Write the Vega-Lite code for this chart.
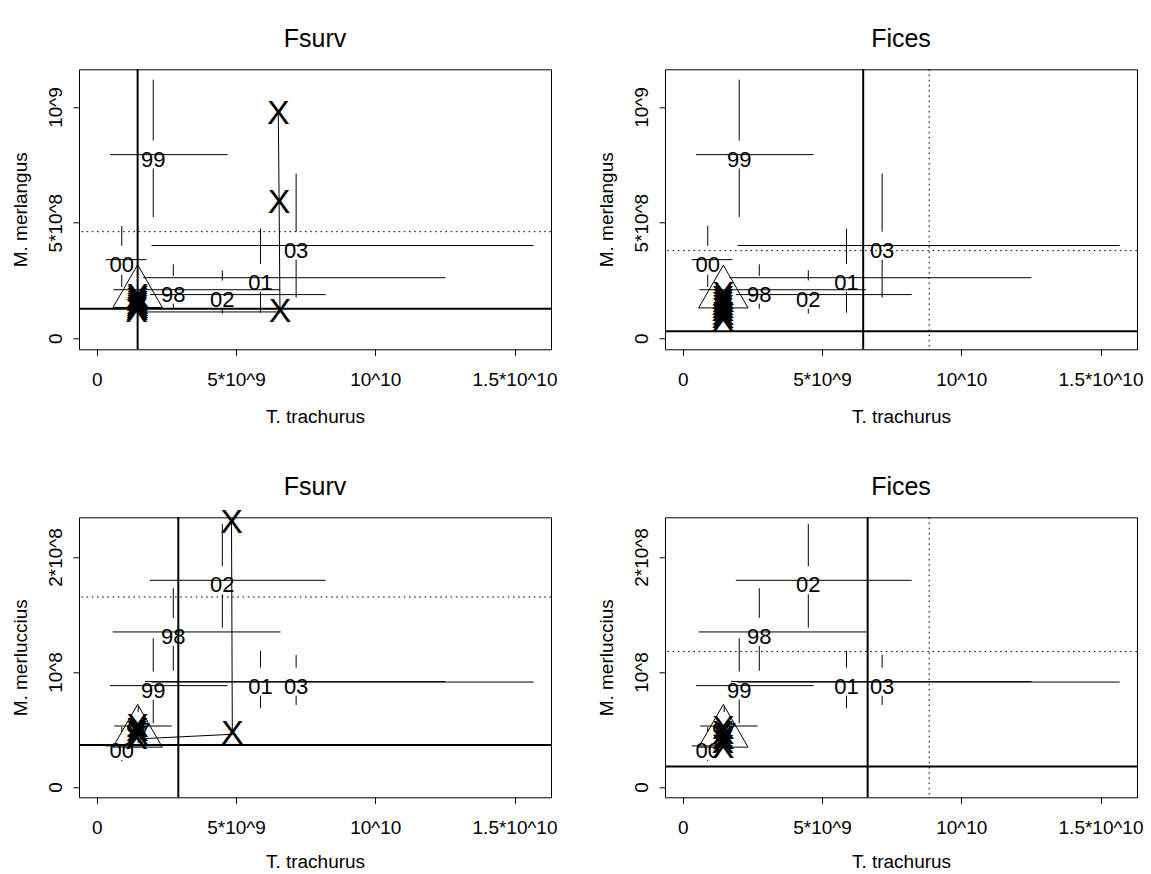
{
"$schema":"https://vega.github.io/schema/vega-lite/v6.json",
"background":"white",
"autosize":{"type":"none"},
"padding":{"left":79,"top":69.3,"right":1072,"bottom":805},
"config":{
 "font":"Liberation Sans",
 "view":{"stroke":"black","strokeWidth":1},
 "axis":{"grid":false,"domain":false,"ticks":true,"tickColor":"black","tickSize":6,"tickWidth":1,"labelFont":"Liberation Sans","labelFontSize":19,"labelColor":"black","labelFlush":false,"labelOverlap":false,"titleFont":"Liberation Sans","titleFontSize":19,"titleFontWeight":"normal","titleColor":"black"},
 "title":{"font":"Liberation Sans","fontSize":25,"fontWeight":"normal","color":"black","anchor":"middle","frame":"group","baseline":"alphabetic"},
 "text":{"font":"Liberation Sans","color":"black"},
 "rule":{"color":"black"},
 "line":{"color":"black"}
},
"datasets":{
 "ci":[
  {"sp":"merlangus","year":"98","x":2.75e9,"xlo":0.60e9,"xhi":6.58e9,"y":2.10e8},
  {"sp":"merlangus","year":"99","x":2.03e9,"xlo":0.477e9,"xhi":4.70e9,"y":7.94e8},
  {"sp":"merlangus","year":"00","x":0.90e9,"xlo":0.32e9,"xhi":1.79e9,"y":3.40e8},
  {"sp":"merlangus","year":"01","x":5.88e9,"xlo":1.67e9,"xhi":12.52e9,"y":2.62e8},
  {"sp":"merlangus","year":"02","x":4.51e9,"xlo":1.91e9,"xhi":8.22e9,"y":1.89e8},
  {"sp":"merlangus","year":"03","x":7.16e9,"xlo":1.97e9,"xhi":15.69e9,"y":4.01e8},
  {"sp":"merluccius","year":"97","x":1.49e9,"xlo":0.63e9,"xhi":2.69e9,"y":0.53e8},
  {"sp":"merluccius","year":"98","x":2.75e9,"xlo":0.574e9,"xhi":6.60e9,"y":1.348e8},
  {"sp":"merluccius","year":"99","x":2.03e9,"xlo":0.477e9,"xhi":4.70e9,"y":0.881e8},
  {"sp":"merluccius","year":"00","x":0.90e9,"xlo":0.32e9,"xhi":1.79e9,"y":0.357e8},
  {"sp":"merluccius","year":"01","x":5.88e9,"xlo":1.73e9,"xhi":12.52e9,"y":0.916e8},
  {"sp":"merluccius","year":"02","x":4.51e9,"xlo":1.91e9,"xhi":8.22e9,"y":1.797e8},
  {"sp":"merluccius","year":"03","x":7.16e9,"xlo":1.97e9,"xhi":15.69e9,"y":0.912e8}
 ],
 "vseg":[
  {"sp":"merlangus","year":"98","x":2.75e9,"y1":1.28e8,"y2":1.50e8},
  {"sp":"merlangus","year":"98","x":2.75e9,"y1":2.70e8,"y2":3.20e8},
  {"sp":"merlangus","year":"99","x":2.03e9,"y1":5.24e8,"y2":7.34e8},
  {"sp":"merlangus","year":"99","x":2.03e9,"y1":8.55e8,"y2":11.18e8},
  {"sp":"merlangus","year":"00","x":0.90e9,"y1":2.22e8,"y2":2.75e8},
  {"sp":"merlangus","year":"00","x":0.90e9,"y1":4.00e8,"y2":4.86e8},
  {"sp":"merlangus","year":"01","x":5.88e9,"y1":1.11e8,"y2":2.01e8},
  {"sp":"merlangus","year":"01","x":5.88e9,"y1":3.22e8,"y2":4.74e8},
  {"sp":"merlangus","year":"02","x":4.51e9,"y1":1.07e8,"y2":1.28e8},
  {"sp":"merlangus","year":"02","x":4.51e9,"y1":2.50e8,"y2":2.94e8},
  {"sp":"merlangus","year":"03","x":7.16e9,"y1":1.76e8,"y2":3.40e8},
  {"sp":"merlangus","year":"03","x":7.16e9,"y1":4.61e8,"y2":7.12e8},
  {"sp":"merluccius","year":"97","x":1.49e9,"y1":0.38e8,"y2":0.408e8},
  {"sp":"merluccius","year":"97","x":1.49e9,"y1":0.652e8,"y2":0.704e8},
  {"sp":"merluccius","year":"98","x":2.75e9,"y1":1.011e8,"y2":1.226e8},
  {"sp":"merluccius","year":"98","x":2.75e9,"y1":1.470e8,"y2":1.728e8},
  {"sp":"merluccius","year":"99","x":2.03e9,"y1":0.554e8,"y2":0.759e8},
  {"sp":"merluccius","year":"99","x":2.03e9,"y1":1.003e8,"y2":1.293e8},
  {"sp":"merluccius","year":"00","x":0.90e9,"y1":0.225e8,"y2":0.235e8},
  {"sp":"merluccius","year":"00","x":0.90e9,"y1":0.479e8,"y2":0.52e8},
  {"sp":"merluccius","year":"01","x":5.88e9,"y1":0.684e8,"y2":0.794e8},
  {"sp":"merluccius","year":"01","x":5.88e9,"y1":1.038e8,"y2":1.183e8},
  {"sp":"merluccius","year":"02","x":4.51e9,"y1":1.385e8,"y2":1.675e8},
  {"sp":"merluccius","year":"02","x":4.51e9,"y1":1.919e8,"y2":2.287e8},
  {"sp":"merluccius","year":"03","x":7.16e9,"y1":0.713e8,"y2":0.793e8},
  {"sp":"merluccius","year":"03","x":7.16e9,"y1":1.037e8,"y2":1.148e8}
 ],
 "refs":[
  {"panel":"p1","axis":"x","kind":"solid","value":1.47e9},
  {"panel":"p1","axis":"y","kind":"solid","value":1.28e8},
  {"panel":"p1","axis":"y","kind":"dotted","value":4.61e8},
  {"panel":"p2","axis":"x","kind":"solid","value":6.48e9},
  {"panel":"p2","axis":"x","kind":"dotted","value":8.85e9},
  {"panel":"p2","axis":"y","kind":"solid","value":0.30e8},
  {"panel":"p2","axis":"y","kind":"dotted","value":3.79e8},
  {"panel":"p3","axis":"x","kind":"solid","value":2.93e9},
  {"panel":"p3","axis":"y","kind":"solid","value":0.365e8},
  {"panel":"p3","axis":"y","kind":"dotted","value":1.652e8},
  {"panel":"p4","axis":"x","kind":"solid","value":6.64e9},
  {"panel":"p4","axis":"x","kind":"dotted","value":8.85e9},
  {"panel":"p4","axis":"y","kind":"solid","value":0.177e8},
  {"panel":"p4","axis":"y","kind":"dotted","value":1.177e8}
 ],
 "traj":[
  {"panel":"p1","step":1,"x":1.47e9,"y":1.79e8},
  {"panel":"p1","step":2,"x":1.47e9,"y":1.70e8},
  {"panel":"p1","step":3,"x":1.46e9,"y":1.60e8},
  {"panel":"p1","step":4,"x":1.47e9,"y":1.50e8},
  {"panel":"p1","step":5,"x":1.46e9,"y":1.40e8},
  {"panel":"p1","step":6,"x":1.46e9,"y":1.30e8},
  {"panel":"p1","step":7,"x":1.45e9,"y":1.22e8},
  {"panel":"p1","step":8,"x":1.43e9,"y":1.14e8},
  {"panel":"p1","step":9,"x":6.58e9,"y":1.14e8},
  {"panel":"p1","step":10,"x":6.55e9,"y":5.86e8},
  {"panel":"p1","step":11,"x":6.52e9,"y":9.68e8},
  {"panel":"p2","step":1,"x":1.46e9,"y":1.86e8},
  {"panel":"p2","step":2,"x":1.45e9,"y":1.72e8},
  {"panel":"p2","step":3,"x":1.46e9,"y":1.58e8},
  {"panel":"p2","step":4,"x":1.44e9,"y":1.44e8},
  {"panel":"p2","step":5,"x":1.45e9,"y":1.30e8},
  {"panel":"p2","step":6,"x":1.44e9,"y":1.16e8},
  {"panel":"p2","step":7,"x":1.45e9,"y":1.02e8},
  {"panel":"p2","step":8,"x":1.44e9,"y":0.88e8},
  {"panel":"p2","step":9,"x":1.45e9,"y":0.76e8},
  {"panel":"p3","step":1,"x":1.47e9,"y":0.52e8},
  {"panel":"p3","step":2,"x":1.46e9,"y":0.49e8},
  {"panel":"p3","step":3,"x":1.45e9,"y":0.46e8},
  {"panel":"p3","step":4,"x":1.43e9,"y":0.417e8},
  {"panel":"p3","step":5,"x":4.87e9,"y":0.458e8},
  {"panel":"p3","step":6,"x":4.84e9,"y":2.296e8},
  {"panel":"p4","step":1,"x":1.46e9,"y":0.50e8},
  {"panel":"p4","step":2,"x":1.45e9,"y":0.46e8},
  {"panel":"p4","step":3,"x":1.46e9,"y":0.42e8},
  {"panel":"p4","step":4,"x":1.44e9,"y":0.38e8},
  {"panel":"p4","step":5,"x":1.45e9,"y":0.34e8}
 ],
 "start":[
  {"panel":"p1","x":1.47e9,"y":1.95e8},
  {"panel":"p2","x":1.46e9,"y":1.93e8},
  {"panel":"p3","x":1.47e9,"y":0.47e8},
  {"panel":"p4","x":1.46e9,"y":0.47e8}
 ]
},
"columns":2,
"spacing":{"row":168,"column":114},
"bounds":"flush",
"concat":[
 {"width":472,"height":280,"title":{"text":"Fsurv","frame":"group","baseline":"alphabetic","offset":-4,"anchor":"middle","fontSize":25,"fontWeight":"normal","font":"Liberation Sans"},"layer":[
  {"data":{"name":"refs"},"transform":[{"filter":"datum.panel=='p1' && datum.axis=='x'"}],"mark":"rule","encoding":{"x":{"field":"value","type":"quantitative","scale":{"domain":[-0.635e9,16.31e9],"nice":false,"zero":false}},"strokeDash":{"field":"kind","type":"nominal","scale":{"domain":["solid","dotted"],"range":[[1,0],[1.6,3.6]]},"legend":null},"strokeWidth":{"field":"kind","type":"nominal","scale":{"domain":["solid","dotted"],"range":[2,1]},"legend":null}}},
  {"data":{"name":"refs"},"transform":[{"filter":"datum.panel=='p1' && datum.axis=='y'"}],"mark":"rule","encoding":{"y":{"field":"value","type":"quantitative","scale":{"domain":[-0.475e8,11.63e8],"nice":false,"zero":false}},"strokeDash":{"field":"kind","type":"nominal","scale":{"domain":["solid","dotted"],"range":[[1,0],[1.6,3.6]]},"legend":null},"strokeWidth":{"field":"kind","type":"nominal","scale":{"domain":["solid","dotted"],"range":[2,1]},"legend":null}}},
  {"data":{"name":"ci"},"transform":[{"filter":"datum.sp=='merlangus'"}],"mark":{"type":"rule","strokeWidth":1},"encoding":{"x":{"field":"xlo","type":"quantitative","scale":{"domain":[-0.635e9,16.31e9],"nice":false,"zero":false},"axis":{"title":"T. trachurus","values":[0,5000000000,10000000000,15000000000],"labelExpr":"datum.value==0 ? '0' : datum.value==5000000000 ? '5*10^9' : datum.value==10000000000 ? '10^10' : '1.5*10^10'","labelBaseline":"alphabetic","labelPadding":30.7,"titleX":236,"titleY":73.7,"titleBaseline":"alphabetic"}},"x2":{"field":"xhi"},"y":{"field":"y","type":"quantitative","scale":{"domain":[-0.475e8,11.63e8],"nice":false,"zero":false},"axis":{"title":"M. merlangus","values":[0,500000000,1000000000],"labelExpr":"datum.value==0 ? '0' : datum.value==500000000 ? '5*10^8' : '10^9'","labelAngle":270,"labelAlign":"center","labelBaseline":"alphabetic","labelPadding":11.5,"titleAngle":270,"titleX":-52.5,"titleY":140,"titleBaseline":"alphabetic","titleAlign":"center"}}}},
  {"data":{"name":"vseg"},"transform":[{"filter":"datum.sp=='merlangus'"}],"mark":{"type":"rule","strokeWidth":1},"encoding":{"x":{"field":"x","type":"quantitative","scale":{"domain":[-0.635e9,16.31e9],"nice":false,"zero":false}},"y":{"field":"y1","type":"quantitative","scale":{"domain":[-0.475e8,11.63e8],"nice":false,"zero":false}},"y2":{"field":"y2"}}},
  {"data":{"name":"ci"},"transform":[{"filter":"datum.sp=='merlangus'"}],"mark":{"type":"text","fontSize":22,"baseline":"middle","align":"center","dy":5},"encoding":{"x":{"field":"x","type":"quantitative","scale":{"domain":[-0.635e9,16.31e9],"nice":false,"zero":false}},"y":{"field":"y","type":"quantitative","scale":{"domain":[-0.475e8,11.63e8],"nice":false,"zero":false}},"text":{"field":"year","type":"nominal"}}},
  {"data":{"name":"traj"},"transform":[{"filter":"datum.panel=='p1'"}],"mark":{"type":"line","strokeWidth":1},"encoding":{"x":{"field":"x","type":"quantitative","scale":{"domain":[-0.635e9,16.31e9],"nice":false,"zero":false}},"y":{"field":"y","type":"quantitative","scale":{"domain":[-0.475e8,11.63e8],"nice":false,"zero":false}},"order":{"field":"step","type":"quantitative"}}},
  {"data":{"name":"traj"},"transform":[{"filter":"datum.panel=='p1'"}],"mark":{"type":"text","text":"X","fontSize":34,"baseline":"middle","align":"center"},"encoding":{"x":{"field":"x","type":"quantitative","scale":{"domain":[-0.635e9,16.31e9],"nice":false,"zero":false}},"y":{"field":"y","type":"quantitative","scale":{"domain":[-0.475e8,11.63e8],"nice":false,"zero":false}}}},
  {"data":{"name":"start"},"transform":[{"filter":"datum.panel=='p1'"}],"mark":{"type":"point","shape":"M0,-1L0.866,0.5L-0.866,0.5Z","size":3249,"filled":false,"stroke":"black","strokeWidth":1,"opacity":1},"encoding":{"x":{"field":"x","type":"quantitative","scale":{"domain":[-0.635e9,16.31e9],"nice":false,"zero":false}},"y":{"field":"y","type":"quantitative","scale":{"domain":[-0.475e8,11.63e8],"nice":false,"zero":false}}}}
 ]},
 {"width":472,"height":280,"title":{"text":"Fices","frame":"group","baseline":"alphabetic","offset":-4,"anchor":"middle","fontSize":25,"fontWeight":"normal","font":"Liberation Sans"},"layer":[
  {"data":{"name":"refs"},"transform":[{"filter":"datum.panel=='p2' && datum.axis=='x'"}],"mark":"rule","encoding":{"x":{"field":"value","type":"quantitative","scale":{"domain":[-0.635e9,16.31e9],"nice":false,"zero":false}},"strokeDash":{"field":"kind","type":"nominal","scale":{"domain":["solid","dotted"],"range":[[1,0],[1.6,3.6]]},"legend":null},"strokeWidth":{"field":"kind","type":"nominal","scale":{"domain":["solid","dotted"],"range":[2,1]},"legend":null}}},
  {"data":{"name":"refs"},"transform":[{"filter":"datum.panel=='p2' && datum.axis=='y'"}],"mark":"rule","encoding":{"y":{"field":"value","type":"quantitative","scale":{"domain":[-0.475e8,11.63e8],"nice":false,"zero":false}},"strokeDash":{"field":"kind","type":"nominal","scale":{"domain":["solid","dotted"],"range":[[1,0],[1.6,3.6]]},"legend":null},"strokeWidth":{"field":"kind","type":"nominal","scale":{"domain":["solid","dotted"],"range":[2,1]},"legend":null}}},
  {"data":{"name":"ci"},"transform":[{"filter":"datum.sp=='merlangus'"}],"mark":{"type":"rule","strokeWidth":1},"encoding":{"x":{"field":"xlo","type":"quantitative","scale":{"domain":[-0.635e9,16.31e9],"nice":false,"zero":false},"axis":{"title":"T. trachurus","values":[0,5000000000,10000000000,15000000000],"labelExpr":"datum.value==0 ? '0' : datum.value==5000000000 ? '5*10^9' : datum.value==10000000000 ? '10^10' : '1.5*10^10'","labelBaseline":"alphabetic","labelPadding":30.7,"titleX":236,"titleY":73.7,"titleBaseline":"alphabetic"}},"x2":{"field":"xhi"},"y":{"field":"y","type":"quantitative","scale":{"domain":[-0.475e8,11.63e8],"nice":false,"zero":false},"axis":{"title":"M. merlangus","values":[0,500000000,1000000000],"labelExpr":"datum.value==0 ? '0' : datum.value==500000000 ? '5*10^8' : '10^9'","labelAngle":270,"labelAlign":"center","labelBaseline":"alphabetic","labelPadding":11.5,"titleAngle":270,"titleX":-52.5,"titleY":140,"titleBaseline":"alphabetic","titleAlign":"center"}}}},
  {"data":{"name":"vseg"},"transform":[{"filter":"datum.sp=='merlangus'"}],"mark":{"type":"rule","strokeWidth":1},"encoding":{"x":{"field":"x","type":"quantitative","scale":{"domain":[-0.635e9,16.31e9],"nice":false,"zero":false}},"y":{"field":"y1","type":"quantitative","scale":{"domain":[-0.475e8,11.63e8],"nice":false,"zero":false}},"y2":{"field":"y2"}}},
  {"data":{"name":"ci"},"transform":[{"filter":"datum.sp=='merlangus'"}],"mark":{"type":"text","fontSize":22,"baseline":"middle","align":"center","dy":5},"encoding":{"x":{"field":"x","type":"quantitative","scale":{"domain":[-0.635e9,16.31e9],"nice":false,"zero":false}},"y":{"field":"y","type":"quantitative","scale":{"domain":[-0.475e8,11.63e8],"nice":false,"zero":false}},"text":{"field":"year","type":"nominal"}}},
  {"data":{"name":"traj"},"transform":[{"filter":"datum.panel=='p2'"}],"mark":{"type":"line","strokeWidth":1},"encoding":{"x":{"field":"x","type":"quantitative","scale":{"domain":[-0.635e9,16.31e9],"nice":false,"zero":false}},"y":{"field":"y","type":"quantitative","scale":{"domain":[-0.475e8,11.63e8],"nice":false,"zero":false}},"order":{"field":"step","type":"quantitative"}}},
  {"data":{"name":"traj"},"transform":[{"filter":"datum.panel=='p2'"}],"mark":{"type":"text","text":"X","fontSize":34,"baseline":"middle","align":"center"},"encoding":{"x":{"field":"x","type":"quantitative","scale":{"domain":[-0.635e9,16.31e9],"nice":false,"zero":false}},"y":{"field":"y","type":"quantitative","scale":{"domain":[-0.475e8,11.63e8],"nice":false,"zero":false}}}},
  {"data":{"name":"start"},"transform":[{"filter":"datum.panel=='p2'"}],"mark":{"type":"point","shape":"M0,-1L0.866,0.5L-0.866,0.5Z","size":3249,"filled":false,"stroke":"black","strokeWidth":1,"opacity":1},"encoding":{"x":{"field":"x","type":"quantitative","scale":{"domain":[-0.635e9,16.31e9],"nice":false,"zero":false}},"y":{"field":"y","type":"quantitative","scale":{"domain":[-0.475e8,11.63e8],"nice":false,"zero":false}}}}
 ]},
 {"width":472,"height":280,"title":{"text":"Fsurv","frame":"group","baseline":"alphabetic","offset":-14,"anchor":"middle","fontSize":25,"fontWeight":"normal","font":"Liberation Sans"},"layer":[
  {"data":{"name":"refs"},"transform":[{"filter":"datum.panel=='p3' && datum.axis=='x'"}],"mark":"rule","encoding":{"x":{"field":"value","type":"quantitative","scale":{"domain":[-0.635e9,16.31e9],"nice":false,"zero":false}},"strokeDash":{"field":"kind","type":"nominal","scale":{"domain":["solid","dotted"],"range":[[1,0],[1.6,3.6]]},"legend":null},"strokeWidth":{"field":"kind","type":"nominal","scale":{"domain":["solid","dotted"],"range":[2,1]},"legend":null}}},
  {"data":{"name":"refs"},"transform":[{"filter":"datum.panel=='p3' && datum.axis=='y'"}],"mark":"rule","encoding":{"y":{"field":"value","type":"quantitative","scale":{"domain":[-0.09e8,2.345e8],"nice":false,"zero":false}},"strokeDash":{"field":"kind","type":"nominal","scale":{"domain":["solid","dotted"],"range":[[1,0],[1.6,3.6]]},"legend":null},"strokeWidth":{"field":"kind","type":"nominal","scale":{"domain":["solid","dotted"],"range":[2,1]},"legend":null}}},
  {"data":{"name":"ci"},"transform":[{"filter":"datum.sp=='merluccius'"}],"mark":{"type":"rule","strokeWidth":1},"encoding":{"x":{"field":"xlo","type":"quantitative","scale":{"domain":[-0.635e9,16.31e9],"nice":false,"zero":false},"axis":{"title":"T. trachurus","values":[0,5000000000,10000000000,15000000000],"labelExpr":"datum.value==0 ? '0' : datum.value==5000000000 ? '5*10^9' : datum.value==10000000000 ? '10^10' : '1.5*10^10'","labelBaseline":"alphabetic","labelPadding":30.7,"titleX":236,"titleY":70,"titleBaseline":"alphabetic"}},"x2":{"field":"xhi"},"y":{"field":"y","type":"quantitative","scale":{"domain":[-0.09e8,2.345e8],"nice":false,"zero":false},"axis":{"title":"M. merluccius","values":[0,100000000,200000000],"labelExpr":"datum.value==0 ? '0' : datum.value==100000000 ? '10^8' : '2*10^8'","labelAngle":270,"labelAlign":"center","labelBaseline":"alphabetic","labelPadding":11.5,"titleAngle":270,"titleX":-52.5,"titleY":140,"titleBaseline":"alphabetic","titleAlign":"center"}}}},
  {"data":{"name":"vseg"},"transform":[{"filter":"datum.sp=='merluccius'"}],"mark":{"type":"rule","strokeWidth":1},"encoding":{"x":{"field":"x","type":"quantitative","scale":{"domain":[-0.635e9,16.31e9],"nice":false,"zero":false}},"y":{"field":"y1","type":"quantitative","scale":{"domain":[-0.09e8,2.345e8],"nice":false,"zero":false}},"y2":{"field":"y2"}}},
  {"data":{"name":"ci"},"transform":[{"filter":"datum.sp=='merluccius'"}],"mark":{"type":"text","fontSize":22,"baseline":"middle","align":"center","dy":5},"encoding":{"x":{"field":"x","type":"quantitative","scale":{"domain":[-0.635e9,16.31e9],"nice":false,"zero":false}},"y":{"field":"y","type":"quantitative","scale":{"domain":[-0.09e8,2.345e8],"nice":false,"zero":false}},"text":{"field":"year","type":"nominal"}}},
  {"data":{"name":"traj"},"transform":[{"filter":"datum.panel=='p3'"}],"mark":{"type":"line","strokeWidth":1},"encoding":{"x":{"field":"x","type":"quantitative","scale":{"domain":[-0.635e9,16.31e9],"nice":false,"zero":false}},"y":{"field":"y","type":"quantitative","scale":{"domain":[-0.09e8,2.345e8],"nice":false,"zero":false}},"order":{"field":"step","type":"quantitative"}}},
  {"data":{"name":"traj"},"transform":[{"filter":"datum.panel=='p3'"}],"mark":{"type":"text","text":"X","fontSize":34,"baseline":"middle","align":"center"},"encoding":{"x":{"field":"x","type":"quantitative","scale":{"domain":[-0.635e9,16.31e9],"nice":false,"zero":false}},"y":{"field":"y","type":"quantitative","scale":{"domain":[-0.09e8,2.345e8],"nice":false,"zero":false}}}},
  {"data":{"name":"start"},"transform":[{"filter":"datum.panel=='p3'"}],"mark":{"type":"point","shape":"M0,-1L0.866,0.5L-0.866,0.5Z","size":3249,"filled":false,"stroke":"black","strokeWidth":1,"opacity":1},"encoding":{"x":{"field":"x","type":"quantitative","scale":{"domain":[-0.635e9,16.31e9],"nice":false,"zero":false}},"y":{"field":"y","type":"quantitative","scale":{"domain":[-0.09e8,2.345e8],"nice":false,"zero":false}}}}
 ]},
 {"width":472,"height":280,"title":{"text":"Fices","frame":"group","baseline":"alphabetic","offset":-4,"anchor":"middle","fontSize":25,"fontWeight":"normal","font":"Liberation Sans"},"layer":[
  {"data":{"name":"refs"},"transform":[{"filter":"datum.panel=='p4' && datum.axis=='x'"}],"mark":"rule","encoding":{"x":{"field":"value","type":"quantitative","scale":{"domain":[-0.635e9,16.31e9],"nice":false,"zero":false}},"strokeDash":{"field":"kind","type":"nominal","scale":{"domain":["solid","dotted"],"range":[[1,0],[1.6,3.6]]},"legend":null},"strokeWidth":{"field":"kind","type":"nominal","scale":{"domain":["solid","dotted"],"range":[2,1]},"legend":null}}},
  {"data":{"name":"refs"},"transform":[{"filter":"datum.panel=='p4' && datum.axis=='y'"}],"mark":"rule","encoding":{"y":{"field":"value","type":"quantitative","scale":{"domain":[-0.09e8,2.345e8],"nice":false,"zero":false}},"strokeDash":{"field":"kind","type":"nominal","scale":{"domain":["solid","dotted"],"range":[[1,0],[1.6,3.6]]},"legend":null},"strokeWidth":{"field":"kind","type":"nominal","scale":{"domain":["solid","dotted"],"range":[2,1]},"legend":null}}},
  {"data":{"name":"ci"},"transform":[{"filter":"datum.sp=='merluccius'"}],"mark":{"type":"rule","strokeWidth":1},"encoding":{"x":{"field":"xlo","type":"quantitative","scale":{"domain":[-0.635e9,16.31e9],"nice":false,"zero":false},"axis":{"title":"T. trachurus","values":[0,5000000000,10000000000,15000000000],"labelExpr":"datum.value==0 ? '0' : datum.value==5000000000 ? '5*10^9' : datum.value==10000000000 ? '10^10' : '1.5*10^10'","labelBaseline":"alphabetic","labelPadding":30.7,"titleX":236,"titleY":70,"titleBaseline":"alphabetic"}},"x2":{"field":"xhi"},"y":{"field":"y","type":"quantitative","scale":{"domain":[-0.09e8,2.345e8],"nice":false,"zero":false},"axis":{"title":"M. merluccius","values":[0,100000000,200000000],"labelExpr":"datum.value==0 ? '0' : datum.value==100000000 ? '10^8' : '2*10^8'","labelAngle":270,"labelAlign":"center","labelBaseline":"alphabetic","labelPadding":11.5,"titleAngle":270,"titleX":-52.5,"titleY":140,"titleBaseline":"alphabetic","titleAlign":"center"}}}},
  {"data":{"name":"vseg"},"transform":[{"filter":"datum.sp=='merluccius'"}],"mark":{"type":"rule","strokeWidth":1},"encoding":{"x":{"field":"x","type":"quantitative","scale":{"domain":[-0.635e9,16.31e9],"nice":false,"zero":false}},"y":{"field":"y1","type":"quantitative","scale":{"domain":[-0.09e8,2.345e8],"nice":false,"zero":false}},"y2":{"field":"y2"}}},
  {"data":{"name":"ci"},"transform":[{"filter":"datum.sp=='merluccius'"}],"mark":{"type":"text","fontSize":22,"baseline":"middle","align":"center","dy":5},"encoding":{"x":{"field":"x","type":"quantitative","scale":{"domain":[-0.635e9,16.31e9],"nice":false,"zero":false}},"y":{"field":"y","type":"quantitative","scale":{"domain":[-0.09e8,2.345e8],"nice":false,"zero":false}},"text":{"field":"year","type":"nominal"}}},
  {"data":{"name":"traj"},"transform":[{"filter":"datum.panel=='p4'"}],"mark":{"type":"line","strokeWidth":1},"encoding":{"x":{"field":"x","type":"quantitative","scale":{"domain":[-0.635e9,16.31e9],"nice":false,"zero":false}},"y":{"field":"y","type":"quantitative","scale":{"domain":[-0.09e8,2.345e8],"nice":false,"zero":false}},"order":{"field":"step","type":"quantitative"}}},
  {"data":{"name":"traj"},"transform":[{"filter":"datum.panel=='p4'"}],"mark":{"type":"text","text":"X","fontSize":34,"baseline":"middle","align":"center"},"encoding":{"x":{"field":"x","type":"quantitative","scale":{"domain":[-0.635e9,16.31e9],"nice":false,"zero":false}},"y":{"field":"y","type":"quantitative","scale":{"domain":[-0.09e8,2.345e8],"nice":false,"zero":false}}}},
  {"data":{"name":"start"},"transform":[{"filter":"datum.panel=='p4'"}],"mark":{"type":"point","shape":"M0,-1L0.866,0.5L-0.866,0.5Z","size":3249,"filled":false,"stroke":"black","strokeWidth":1,"opacity":1},"encoding":{"x":{"field":"x","type":"quantitative","scale":{"domain":[-0.635e9,16.31e9],"nice":false,"zero":false}},"y":{"field":"y","type":"quantitative","scale":{"domain":[-0.09e8,2.345e8],"nice":false,"zero":false}}}}
 ]}
]
}
